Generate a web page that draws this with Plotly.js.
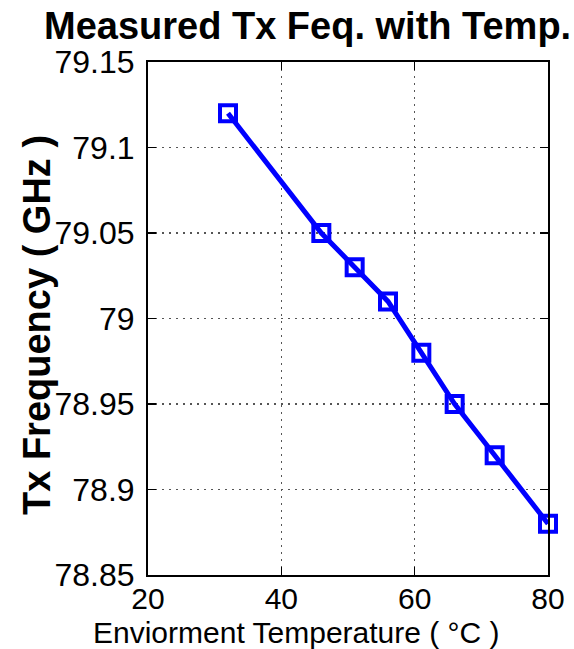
<!DOCTYPE html>
<html>
<head>
<meta charset="utf-8">
<script src="https://cdn.plot.ly/plotly-3.0.1.min.js"></script>
<style>html,body{margin:0;padding:0;background:#fff;}#chart{width:574px;height:649px;}</style>
</head>
<body>
<div id="chart"></div>
<script>
var temperature = [32, 46, 51, 56, 61, 66, 72, 80];
var frequency = [79.12, 79.05, 79.03, 79.01, 78.98, 78.95, 78.92, 78.88];
var xTicks = [20, 40, 60, 80];
var yTicks = [78.85, 78.9, 78.95, 79, 79.05, 79.1, 79.15];
var yTickText = ['78.85', '78.9', '78.95', '79', '79.05', '79.1', '79.15'];
var titleText = 'Measured Tx Feq. with Temp.';
var xTitleText = 'Enviorment Temperature ( °C )';
var yTitleText = 'Tx Frequency ( GHz )';

var FONT = 'Liberation Sans, Arial, sans-serif';

var trace = {
  x: temperature,
  y: frequency,
  mode: 'lines+markers',
  type: 'scatter',
  line: {color: '#0000ff', width: 5},
  marker: {symbol: 'square-open', size: 16, color: '#0000ff', line: {width: 4, color: '#0000ff'}},
  cliponaxis: false,
  hoverinfo: 'none'
};

var L = 148, T = 62, W = 400, H = 513;

var layout = {
  width: 574,
  height: 649,
  margin: {l: L, r: 26, t: T, b: 74},
  paper_bgcolor: '#ffffff',
  plot_bgcolor: '#ffffff',
  showlegend: false,
  xaxis: {
    range: [20, 80],
    tickvals: xTicks,
    ticktext: xTicks.map(String),
    ticks: 'inside', ticklen: 8, tickwidth: 1.5, tickcolor: '#000',
    mirror: 'ticks', showline: true, linecolor: '#000', linewidth: 2,
    showgrid: true, gridcolor: '#555', griddash: '2px,5px', gridwidth: 1.5,
    zeroline: false, ticklabelstandoff: -4,
    tickfont: {family: FONT, size: 30, color: '#000'}
  },
  yaxis: {
    range: [78.85, 79.15],
    tickvals: yTicks,
    ticktext: yTickText,
    ticks: 'inside', ticklen: 8, tickwidth: 1.5, tickcolor: '#000',
    mirror: 'ticks', showline: true, linecolor: '#000', linewidth: 2,
    showgrid: true, gridcolor: '#555', griddash: '2px,5px', gridwidth: 1.5,
    zeroline: false, ticklabelstandoff: 5,
    tickfont: {family: FONT, size: 32, color: '#000'}
  },
  annotations: [
    {
      text: '<b>' + titleText + '</b>',
      font: {family: FONT, size: 38, color: '#000'},
      xref: 'paper', yref: 'paper',
      x: (307 - L) / W, y: (T + H - 26) / H,
      xanchor: 'center', yanchor: 'middle', showarrow: false
    },
    {
      text: xTitleText,
      font: {family: FONT, size: 30, color: '#000'},
      xref: 'paper', yref: 'paper',
      x: (296 - L) / W, y: (T + H - 632) / H,
      xanchor: 'center', yanchor: 'middle', showarrow: false
    },
    {
      text: '<b>' + yTitleText + '</b>',
      font: {family: FONT, size: 38, color: '#000'},
      xref: 'paper', yref: 'paper',
      x: (37 - L) / W, y: (T + H - 325) / H,
      xanchor: 'center', yanchor: 'middle', textangle: -90, showarrow: false
    }
  ]
};

Plotly.newPlot('chart', [trace], layout, {staticPlot: true, displayModeBar: false});
</script>
</body>
</html>
